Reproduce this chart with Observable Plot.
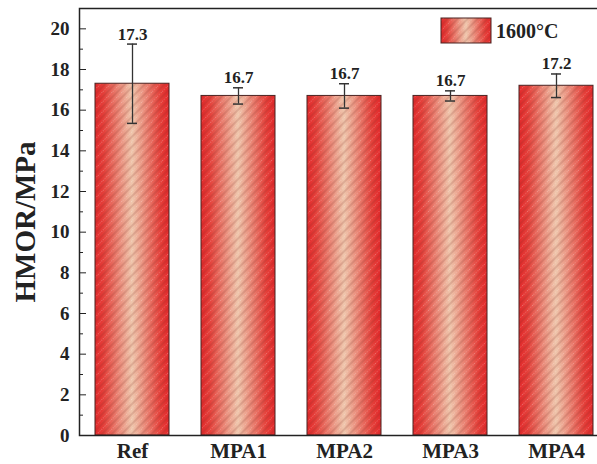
<!DOCTYPE html>
<html>
<head>
<meta charset="utf-8">
<script src="https://cdn.jsdelivr.net/npm/d3@7"></script>
<script src="https://cdn.jsdelivr.net/npm/@observablehq/plot@0.6"></script>
<style>
  html, body { margin: 0; padding: 0; background: #fff; overflow: hidden; }
  #chart svg { display: block; }
</style>
</head>
<body>
<div id="chart"></div>
<script>
const categories = ["Ref", "MPA1", "MPA2", "MPA3", "MPA4"];
const values = [17.3, 16.7, 16.7, 16.7, 17.2];
const errors = [1.95, 0.4, 0.6, 0.25, 0.58];
const valueLabels = ["17.3", "16.7", "16.7", "16.7", "17.2"];
const majorTicks = [0, 2, 4, 6, 8, 10, 12, 14, 16, 18, 20];
const minorTicks = [1, 3, 5, 7, 9, 11, 13, 15, 17, 19];
const seriesName = "1600°C";
const yLabel = "HMOR/MPa";

const data = categories.map((c, i) => ({
  cat: c, val: values[i], lo: values[i] - errors[i], hi: values[i] + errors[i], label: valueLabels[i]
}));

const font = "'Liberation Serif', 'Times New Roman', serif";

const chart = Plot.plot({
  width: 597,
  height: 464,
  marginLeft: 79,
  marginRight: -12,
  marginTop: 8,
  marginBottom: 29,
  style: { fontFamily: font, fontWeight: "bold", fontSize: "17px", color: "#222", background: "transparent" },
  x: { type: "band", domain: categories, paddingInner: 0.3, paddingOuter: 0.15, label: null },
  y: { domain: [0, 21], label: null },
  marks: [
    Plot.barY(data, { x: "cat", y: "val", fill: "url(#barGrad)" }),
    Plot.barY(data, { x: "cat", y: "val", fill: "url(#barHatch)", stroke: "#4a2422", strokeWidth: 1 }),
    Plot.ruleX(data, { x: "cat", y1: "lo", y2: "hi", stroke: "#333", strokeWidth: 1.3 }),
    Plot.tickY(data, { x: "cat", y: "lo", stroke: "#333", strokeWidth: 1.5, insetLeft: 32, insetRight: 32 }),
    Plot.tickY(data, { x: "cat", y: "hi", stroke: "#333", strokeWidth: 1.5, insetLeft: 32, insetRight: 32 }),
    Plot.text(data, { x: "cat", y: "hi", text: "label", dy: -10, fontSize: 17, fontWeight: "bold", fontFamily: font, fill: "#222" }),
    Plot.axisY({ ticks: majorTicks, tickSize: 0, tickPadding: 10, fontSize: 19, fontWeight: "bold", fontFamily: font, label: null }),
    Plot.axisY({ ticks: majorTicks, tickSize: -7, tickFormat: () => "", label: null, stroke: "#222" }),
    Plot.axisY({ ticks: minorTicks, tickSize: -4, tickFormat: () => "", label: null, stroke: "#222" }),
    Plot.axisX({ tickSize: 0, tickPadding: 8, fontSize: 21, fontWeight: "bold", fontFamily: font, label: null }),
    Plot.frame({ stroke: "#222", strokeWidth: 1.5 }),
    Plot.text([yLabel], { frameAnchor: "left", textAnchor: "middle", dx: -54, rotate: -90, fontSize: 29, fontWeight: "bold", fontFamily: font, fill: "#222" })
  ]
});

const ns = "http://www.w3.org/2000/svg";
const defs = document.createElementNS(ns, "defs");
defs.innerHTML = `
  <linearGradient id="barGrad" x1="0" x2="1" y1="0" y2="0">
    <stop offset="0" stop-color="#e2282a"/>
    <stop offset="0.12" stop-color="#e4403a"/>
    <stop offset="0.5" stop-color="#efc6ac"/>
    <stop offset="0.88" stop-color="#e4403a"/>
    <stop offset="1" stop-color="#e2282a"/>
  </linearGradient>
  <pattern id="barHatch" patternUnits="userSpaceOnUse" width="7" height="7" patternTransform="rotate(45)">
    <line x1="1" y1="0" x2="1" y2="7" stroke="#7a2a22" stroke-opacity="0.4" stroke-width="0.8"/>
    <line x1="4.5" y1="0" x2="4.5" y2="7" stroke="#ffffff" stroke-opacity="0.35" stroke-width="0.8" stroke-dasharray="1 1.5"/>
  </pattern>`;
chart.insertBefore(defs, chart.firstChild);

const lg = document.createElementNS(ns, "g");
lg.innerHTML = `
  <rect x="441" y="18" width="50" height="25" fill="url(#barGrad)"/>
  <rect x="441" y="18" width="50" height="25" fill="url(#barHatch)" stroke="#4a2422" stroke-width="1"/>
  <text x="496" y="38" text-anchor="start" font-family="Liberation Serif, Times New Roman, serif" font-weight="bold" font-size="20" fill="#222">${seriesName}</text>`;
chart.appendChild(lg);

document.getElementById("chart").appendChild(chart);
</script>
</body>
</html>
